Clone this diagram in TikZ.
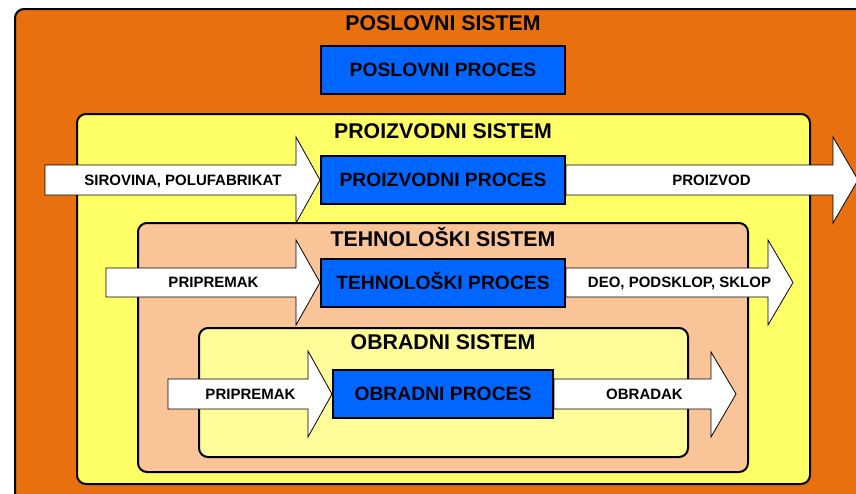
\documentclass[tikz,border=0pt]{standalone}
\usepackage{fontspec}
\setmainfont{Liberation Sans}
\usepackage{tikz}
\usetikzlibrary{positioning}
\definecolor{posorange}{RGB}{232,112,14}
\definecolor{proyellow}{RGB}{255,255,102}
\definecolor{tehtan}{RGB}{248,196,152}
\definecolor{obrlight}{RGB}{255,253,153}
\definecolor{procblue}{RGB}{0,102,255}
\tikzset{
  sistem/.style={draw,line width=2pt,rounded corners=9pt},
  naslov/.style={inner sep=0pt,text height=15.3pt,text depth=0pt,
    font=\bfseries\fontsize{21.3}{22}\selectfont},
  proces/.style={draw,line width=2pt,fill=procblue,inner sep=0pt,
    minimum width=244pt,minimum height=48pt,text height=13.8pt,text depth=0pt,
    font=\bfseries\fontsize{19.3}{20}\selectfont},
  strelica/.style={draw,fill=white,line width=0.8pt,line join=miter},
  oznaka/.style={inner sep=0pt,text height=10.7pt,text depth=0pt,
    font=\bfseries\fontsize{15}{16}\selectfont}
}
\begin{document}
\begin{tikzpicture}[x=1pt,y=-1pt]
\useasboundingbox (0,0) rectangle (856,493);
\clip (0,0) rectangle (856,493);
\draw[sistem,fill=posorange] (15,9) rectangle (900,540);
\node[naslov] (poslovnisis) at (443,23) {POSLOVNI SISTEM};
\node[proces] (poslovni) at (443,70) {POSLOVNI PROCES};
\draw[sistem,fill=proyellow] (77,114) rectangle (810,484);
\node[naslov] (proizvodnisis) at (443,131) {PROIZVODNI SISTEM};
\draw[sistem,fill=tehtan] (138,223) rectangle (748,472);
\node[naslov] (tehnoloskisis) at (443,238.5) {TEHNOLOŠKI SISTEM};
\draw[sistem,fill=obrlight] (199,328) rectangle (688,457);
\node[naslov] (obradnisis) at (443,341.5) {OBRADNI SISTEM};
\node[proces] (proizvodni) at (443,180) {PROIZVODNI PROCES};
\node[proces] (tehnoloski) at (443,282.5) {TEHNOLOŠKI PROCES};
\node[proces,minimum width=220pt] (obradni) at (443,394) {OBRADNI PROCES};
\draw[strelica] (45,165) -| (296,137) -- (proizvodni.west) -- (296,223) |- (45,195) -- cycle;
\draw[strelica] ([yshift=15pt]proizvodni.east) -| (833,137) -- (858,180) -- (833,223) |- ([yshift=-15pt]proizvodni.east) -- cycle;
\draw[strelica] (106,268) -| (296,240) -- (tehnoloski.west) -- (296,325) |- (106,297) -- cycle;
\draw[strelica] ([yshift=14.5pt]tehnoloski.east) -| (768,240) -- (793,282.5) -- (768,325) |- ([yshift=-14.5pt]tehnoloski.east) -- cycle;
\draw[strelica] (168,379) -| (308,351) -- (obradni.west) -- (308,437) |- (168,409) -- cycle;
\draw[strelica] ([yshift=15pt]obradni.east) -| (711,352) -- (736,394) -- (711,437) |- ([yshift=-15pt]obradni.east) -- cycle;
\node[oznaka] (sirovina) at (183,180) {SIROVINA, POLUFABRIKAT};
\node[oznaka] (proizvod) at (711.5,180) {PROIZVOD};
\node[oznaka] (pripremakteh) at (213.5,282.5) {PRIPREMAK};
\node[oznaka] (deo) at (679.5,282.5) {DEO, PODSKLOP, SKLOP};
\node[oznaka] (pripremakobr) at (250.5,394) {PRIPREMAK};
\node[oznaka] (obradak) at (644.5,394) {OBRADAK};
\end{tikzpicture}
\end{document}
